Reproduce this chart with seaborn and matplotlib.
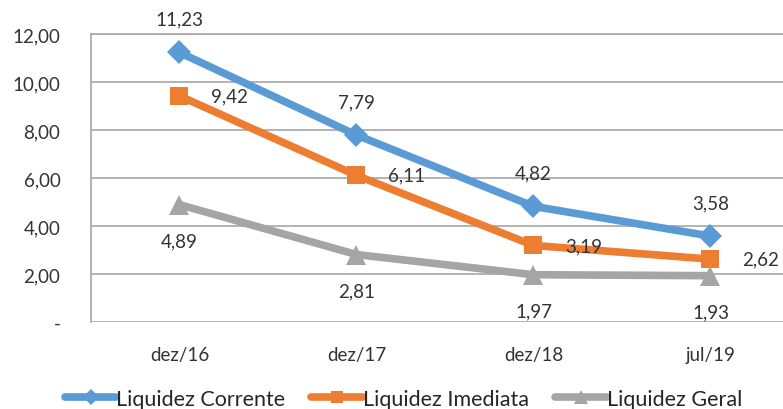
import pandas as pd
import numpy as np
import seaborn as sns
import matplotlib.pyplot as plt
from matplotlib.ticker import FuncFormatter

periodos = ['dez/16', 'dez/17', 'dez/18', 'jul/19']
corrente = [11.23, 7.79, 4.82, 3.58]
imediata = [9.42, 6.11, 3.19, 2.62]
geral = [4.89, 2.81, 1.97, 1.93]

series = ['Liquidez Corrente', 'Liquidez Imediata', 'Liquidez Geral']
df = pd.DataFrame({
    'periodo': periodos * 3,
    'x': list(range(len(periodos))) * 3,
    'valor': corrente + imediata + geral,
    'serie': np.repeat(series, len(periodos)),
})

sns.set_style('white')
plt.rcParams['font.family'] = ['Lato', 'DejaVu Sans']

cores = {'Liquidez Corrente': '#5B9BD5', 'Liquidez Imediata': '#ED7D31', 'Liquidez Geral': '#A5A5A5'}
marcadores = {'Liquidez Corrente': 'D', 'Liquidez Imediata': 's', 'Liquidez Geral': '^'}
tam = {'Liquidez Corrente': 12, 'Liquidez Imediata': 13, 'Liquidez Geral': 14}
# posicao do rotulo de cada serie (offset em pontos)
offsets = {'Liquidez Corrente': (0, 24), 'Liquidez Imediata': (36, 0), 'Liquidez Geral': (0, -26)}

fig = plt.figure(figsize=(7.83, 4.10), dpi=100)
ax = fig.add_axes([0.1162, 0.2122, 0.9042, 0.7024])

for s in series:
    d = df[df['serie'] == s]
    sns.lineplot(data=d, x='x', y='valor', ax=ax, color=cores[s], lw=5.5,
                 marker=marcadores[s], markersize=tam[s], markeredgewidth=0,
                 label=s, zorder=3, legend=False)
    for xv, yv in zip(d['x'], d['valor']):
        ax.annotate(f'{yv:.2f}'.replace('.', ','), (xv, yv), xytext=offsets[s],
                    textcoords='offset points', ha='center', va='center',
                    fontsize=13.5, color='#333333')

ax.set_xlim(-0.5, 3.5)
ax.set_ylim(0, 12)
ax.set_yticks(np.arange(0, 13, 2))
ax.yaxis.set_major_formatter(FuncFormatter(lambda v, p: '-' if v == 0 else f'{v:.2f}'.replace('.', ',')))
ax.set_xticks(range(len(periodos)))
ax.set_xticklabels(periodos)
ax.tick_params(axis='both', length=0, labelsize=13.5, labelcolor='#333333')
ax.tick_params(axis='y', pad=22)
ax.tick_params(axis='x', pad=17)
ax.set_xlabel('')
ax.set_ylabel('')
ax.grid(axis='y', color='#A6A6A6', lw=1.2)
for sp in ['left', 'top']:
    ax.spines[sp].set_color('#A6A6A6')
    ax.spines[sp].set_linewidth(1.2)
ax.spines['right'].set_visible(False)
ax.spines['bottom'].set_visible(False)

handles = ax.get_lines()[:3]
fig.legend(handles, series, loc='center', bbox_to_anchor=(0.515, 0.025),
           ncol=3, frameon=False, fontsize=15.5, handlelength=2.4, handletextpad=0.0,
           columnspacing=1.2, markerscale=0.7)

fig.savefig('out.png', dpi=100)
